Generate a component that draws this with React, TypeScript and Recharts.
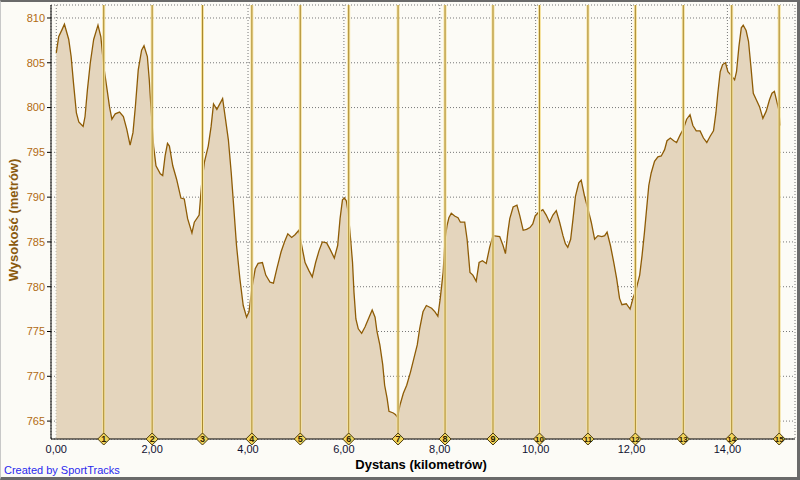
import React from "react";
import {
  AreaChart,
  Area,
  XAxis,
  YAxis,
  CartesianGrid,
  ReferenceLine,
  ReferenceDot,
} from "recharts";

const distanceKm = [
  0.0, 0.05, 0.12, 0.17, 0.26, 0.31, 0.36, 0.42, 0.47, 0.56, 0.6, 0.65, 0.71, 0.78, 0.87, 0.93, 0.99,
  1.06, 1.11, 1.16, 1.23, 1.32, 1.4, 1.47, 1.54, 1.6, 1.65, 1.71, 1.78, 1.83, 1.9, 1.94, 1.97,
  2.03, 2.08, 2.17, 2.22, 2.27, 2.32, 2.36, 2.43, 2.51, 2.6, 2.67, 2.74, 2.83, 2.88, 2.98,
  3.03, 3.09, 3.17, 3.23, 3.28, 3.35, 3.4, 3.47, 3.53, 3.59, 3.65, 3.71, 3.76, 3.83, 3.9, 3.97,
  4.02, 4.08, 4.15, 4.21, 4.3, 4.37, 4.46, 4.53, 4.6, 4.69, 4.76, 4.83, 4.91, 4.98,
  5.06, 5.12, 5.19, 5.27, 5.34, 5.41, 5.48, 5.55, 5.64, 5.71, 5.8, 5.87, 5.92, 5.97,
  6.01, 6.05, 6.09, 6.14, 6.18, 6.21, 6.25, 6.3, 6.37, 6.44, 6.51, 6.59, 6.65, 6.69, 6.75, 6.81, 6.85, 6.9, 6.94,
  7.03, 7.08, 7.12, 7.17, 7.24, 7.31, 7.39, 7.46, 7.53, 7.58, 7.65, 7.72, 7.83, 7.9, 7.96,
  8.01, 8.07, 8.11, 8.15, 8.19, 8.24, 8.31, 8.38, 8.43, 8.52, 8.57, 8.63, 8.69, 8.76, 8.82, 8.89, 8.97,
  9.04, 9.11, 9.25, 9.32, 9.37, 9.42, 9.46, 9.53, 9.61, 9.67, 9.74, 9.81, 9.88, 9.94, 9.99,
  10.06, 10.15, 10.22, 10.29, 10.36, 10.43, 10.5, 10.57, 10.62, 10.67, 10.73, 10.78, 10.83, 10.9, 10.95,
  11.02, 11.09, 11.16, 11.23, 11.3, 11.38, 11.44, 11.49, 11.56, 11.63, 11.69, 11.75, 11.8, 11.89, 11.97,
  12.03, 12.1, 12.17, 12.22, 12.27, 12.32, 12.36, 12.41, 12.48, 12.55, 12.62, 12.69, 12.74, 12.81, 12.88, 12.94,
  13.01, 13.08, 13.15, 13.22, 13.28, 13.35, 13.43, 13.5, 13.57, 13.64, 13.71, 13.76, 13.8, 13.85, 13.9, 13.96,
  14.01, 14.08, 14.15, 14.19, 14.24, 14.29, 14.33, 14.39, 14.44, 14.49, 14.54, 14.6, 14.67, 14.74, 14.81, 14.88, 14.93, 14.98,
  15.03, 15.07, 15.1,
];

const elevation = [
  806.1, 807.9, 808.7, 809.3, 807.6, 805.7, 802.7, 799.4, 798.4, 797.9, 799.0, 802.0, 805.0, 807.6, 809.2, 807.9, 804.6,
  802.0, 800.1, 798.7, 799.3, 799.5, 799.0, 797.6, 795.8, 797.2, 800.1, 804.2, 806.4, 806.9, 805.7, 803.1, 800.5,
  795.7, 793.5, 792.6, 792.4, 794.6, 796.0, 795.7, 793.5, 792.0, 789.9, 789.8, 787.6, 786.0, 787.2, 788.0,
  791.3, 793.9, 795.7, 797.9, 800.4, 799.8, 800.3, 801.0, 798.7, 796.4, 792.7, 788.3, 784.6, 780.9, 777.9, 776.6,
  777.2, 779.8, 782.0, 782.6, 782.7, 781.3, 780.5, 780.4, 782.0, 783.9, 785.0, 785.9, 785.5, 785.8,
  786.3, 784.6, 782.7, 781.8, 781.1, 782.7, 784.0, 785.0, 784.9, 784.2, 783.2, 784.6, 787.6, 789.7,
  789.9, 789.6, 788.3, 785.3, 782.7, 779.4, 776.4, 775.3, 774.8, 775.5, 776.4, 777.4, 776.6, 775.0, 773.5, 771.3, 769.0, 767.6, 766.1,
  765.9, 765.7, 765.4, 766.8, 768.1, 769.0, 770.5, 772.0, 773.5, 775.3, 777.2, 777.9, 777.6, 777.2, 776.7,
  778.7, 781.6, 785.3, 786.8, 787.7, 788.2, 787.9, 787.7, 787.2, 787.2, 785.3, 781.6, 781.3, 780.6, 782.7, 782.9, 782.6,
  784.4, 785.7, 785.6, 784.6, 783.7, 786.1, 787.6, 788.9, 789.1, 787.9, 786.3, 786.4, 786.6, 787.0, 787.9,
  788.3, 788.6, 788.0, 787.2, 788.0, 788.5, 787.2, 785.7, 784.8, 784.4, 785.3, 787.6, 790.1, 791.6, 791.9,
  790.1, 788.7, 787.2, 785.3, 785.7, 785.6, 785.7, 786.1, 784.6, 782.7, 780.9, 778.7, 778.0, 778.1, 777.5,
  778.7, 779.8, 781.3, 783.5, 786.1, 789.0, 791.3, 792.7, 794.0, 794.5, 794.6, 795.3, 796.3, 796.6, 796.3, 796.1,
  796.9, 797.6, 798.7, 799.2, 798.0, 797.4, 797.4, 796.6, 796.1, 796.8, 797.4, 799.4, 801.6, 804.0, 804.8, 805.0,
  804.0, 803.6, 803.1, 804.0, 806.8, 808.9, 809.2, 808.6, 807.4, 804.6, 801.6, 800.9, 800.1, 798.8, 799.6, 800.9, 801.6, 801.8,
  800.7, 799.8, 798.0,
];

const markerKm = [0.99, 2.0, 3.05, 4.08, 5.09, 6.1, 7.13, 8.11, 9.11, 10.08, 11.09, 12.08, 13.08, 14.09, 15.08];
const markerLabels = ["1", "2", "3", "4", "5", "6", "7", "8", "9", "10", "11", "12", "13", "14", "15"];

const xTicks = [0, 2, 4, 6, 8, 10, 12, 14];
const yTicks = [765, 770, 775, 780, 785, 790, 795, 800, 805, 810];

const data = distanceKm.map((km, i) => ({ km, elev: elevation[i] }));

const FONT = "'Liberation Sans', Arial, sans-serif";

const Diamond = (label: string) => (props: any) => {
  const { cx, cy } = props;
  if (cx == null || cy == null) return <g />;
  const h = 6;
  return (
    <g>
      <polygon
        points={`${cx},${cy - h} ${cx + h},${cy} ${cx},${cy + h} ${cx - h},${cy}`}
        fill="#f2d55a"
        stroke="#4a3a10"
        strokeWidth={1}
      />
      <text
        x={cx}
        y={cy + 3}
        textAnchor="middle"
        fontSize={label.length > 1 ? 8 : 9}
        fontFamily={FONT}
        fontWeight="bold"
        fill="#2e2000"
      >
        {label}
      </text>
    </g>
  );
};

export default function App() {
  return (
    <div
      style={{
        position: "fixed",
        left: 0,
        top: 0,
        width: 800,
        height: 480,
        background: "#fcfbf6",
        overflow: "hidden",
        fontFamily: FONT,
      }}
    >
      <div style={{ position: "absolute", left: 0, top: 0 }}>
        <AreaChart
          width={800}
          height={480}
          data={data}
          margin={{ top: 5, right: 5, bottom: 21, left: 11 }}
        >
          <CartesianGrid stroke="#777" strokeDasharray="1 2" />
          <XAxis
            type="number"
            dataKey="km"
            domain={[-0.11, 15.41]}
            allowDataOverflow
            ticks={xTicks}
            tickFormatter={(v: number) => v.toFixed(2).replace(".", ",")}
            height={20}
            axisLine={{ stroke: "#000" }}
            tickLine={false}
            tickMargin={0}
            tick={{ fill: "#101030", fontSize: 11, fontFamily: FONT }}
          />
          <YAxis
            type="number"
            domain={[763, 811.45]}
            allowDataOverflow
            ticks={yTicks}
            width={40}
            axisLine={{ stroke: "#000" }}
            tickLine={{ stroke: "#000" }}
            tickSize={4}
            tickMargin={2}
            tick={{ fill: "#b06a12", fontSize: 11, fontFamily: FONT }}
          />
          <Area
            type="linear"
            dataKey="elev"
            stroke="#8e5c06"
            strokeWidth={1.3}
            fill="#e4d5bd"
            fillOpacity={1}
            dot={false}
            activeDot={false}
            isAnimationActive={false}
          />
          {markerKm.map((m, i) => (
            <ReferenceLine key={"la" + i} x={m} stroke="#f6e3a0" strokeWidth={3} ifOverflow="visible" />
          ))}
          {markerKm.map((m, i) => (
            <ReferenceLine key={"lb" + i} x={m} stroke="#a8882e" strokeWidth={1} ifOverflow="visible" />
          ))}
          {markerKm.map((m, i) => (
            <ReferenceDot
              key={"d" + i}
              x={m}
              y={763}
              r={6}
              ifOverflow="visible"
              shape={Diamond(markerLabels[i])}
            />
          ))}
        </AreaChart>
      </div>
      <div
        style={{
          position: "absolute",
          left: 421,
          top: 457,
          transform: "translateX(-50%)",
          fontSize: 13,
          fontWeight: "bold",
          color: "#000",
          whiteSpace: "nowrap",
        }}
      >
        Dystans (kilometrów)
      </div>
      <div
        style={{
          position: "absolute",
          left: 13,
          top: 220,
          transform: "translate(-50%, -50%) rotate(-90deg)",
          fontSize: 13,
          fontWeight: "bold",
          color: "#8a5a10",
          whiteSpace: "nowrap",
        }}
      >
        Wysokość (metrów)
      </div>
      <div
        style={{
          position: "absolute",
          left: 4,
          top: 464,
          fontSize: 11,
          color: "#2a2aee",
          whiteSpace: "nowrap",
        }}
      >
        Created by SportTracks
      </div>
      <div
        style={{
          position: "absolute",
          left: 0,
          top: 0,
          width: 800,
          height: 480,
          boxSizing: "border-box",
          borderTop: "2px solid #6a6a6a",
          borderLeft: "1px solid #c8c8c8",
          borderRight: "3px solid #6a6a6a",
          borderBottom: "3px solid #6a6a6a",
          pointerEvents: "none",
        }}
      />
    </div>
  );
}
